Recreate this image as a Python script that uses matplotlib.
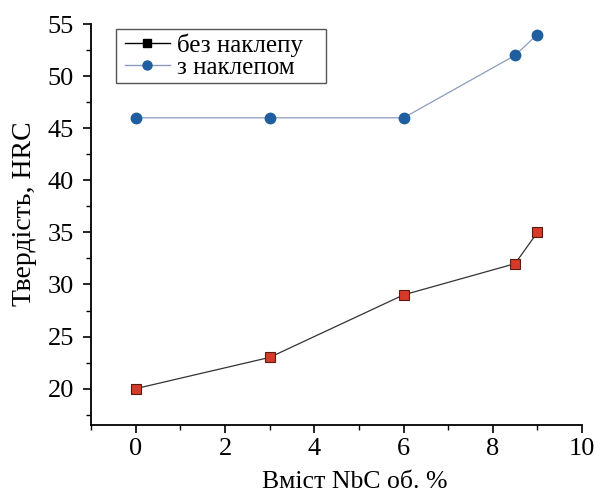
import matplotlib
matplotlib.use("Agg")
import matplotlib.pyplot as plt
from matplotlib.lines import Line2D
from matplotlib.patches import Rectangle
from matplotlib.ticker import MultipleLocator

plt.rcParams['font.family'] = ['Liberation Serif', 'DejaVu Serif']

nbc = [0, 3, 6, 8.5, 9]
hrc_without = [20, 23, 29, 32, 35]
hrc_with = [46, 46, 46, 52, 54]
labels = ['без наклепу', 'з наклепом']

fig = plt.figure(figsize=(6, 4.92), dpi=100)
ax = fig.add_axes([0.152, 0.136, 0.818, 0.815])

ax.plot(nbc, hrc_without, color='#333333', lw=0.9, marker='s', ms=7,
        markerfacecolor='#d63a28', markeredgecolor='#5a1a10', markeredgewidth=0.8)
ax.plot(nbc, hrc_with, color='#8a9cbf', lw=0.9, marker='o', ms=7.5,
        markerfacecolor='#1f5f9f', markeredgecolor='#1f5f9f')

ax.set_xlim(-1, 10)
ax.set_ylim(16.5, 55)
ax.xaxis.set_major_locator(MultipleLocator(2))
ax.xaxis.set_minor_locator(MultipleLocator(1))
ax.yaxis.set_major_locator(MultipleLocator(5))
ax.yaxis.set_minor_locator(MultipleLocator(2.5))
ax.spines['top'].set_visible(False)
ax.spines['right'].set_visible(False)
for s in ('left', 'bottom'):
    ax.spines[s].set_linewidth(1.3)
ax.tick_params(which='major', direction='out', length=5.5, width=1.2, labelsize=19)
ax.tick_params(axis='y', which='major', pad=7)
ax.tick_params(axis='x', which='major', pad=4)
ax.tick_params(which='minor', direction='out', length=3.5, width=1.0)

ax.set_xlabel('Вміст NbC об. %', fontsize=18.5)
ax.set_ylabel('Твердість, HRC', fontsize=20)
ax.xaxis.set_label_coords(0.536, -0.115)
ax.yaxis.set_label_coords(-0.111, 0.526)

handles = [
    Line2D([], [], color='black', lw=1.0, marker='s', ms=6, markerfacecolor='black', markeredgecolor='black'),
    Line2D([], [], color='#8a9cbf', lw=1.0, marker='o', ms=6.5, markerfacecolor='#1f5f9f', markeredgecolor='#1f5f9f'),
]
leg = ax.legend(handles, labels, loc='upper left', bbox_to_anchor=(0.058, 0.99),
                fontsize=18, frameon=False,
                handlelength=1.8, handletextpad=0.3, borderpad=0.2, labelspacing=0.0,
                borderaxespad=0.0)
fig.patches.append(Rectangle((116 / 600, 1 - 83 / 492), 210 / 600, 54 / 492,
                             transform=fig.transFigure, fill=False,
                             edgecolor='#555555', linewidth=1.0))

fig.savefig('out.png', dpi=100)
